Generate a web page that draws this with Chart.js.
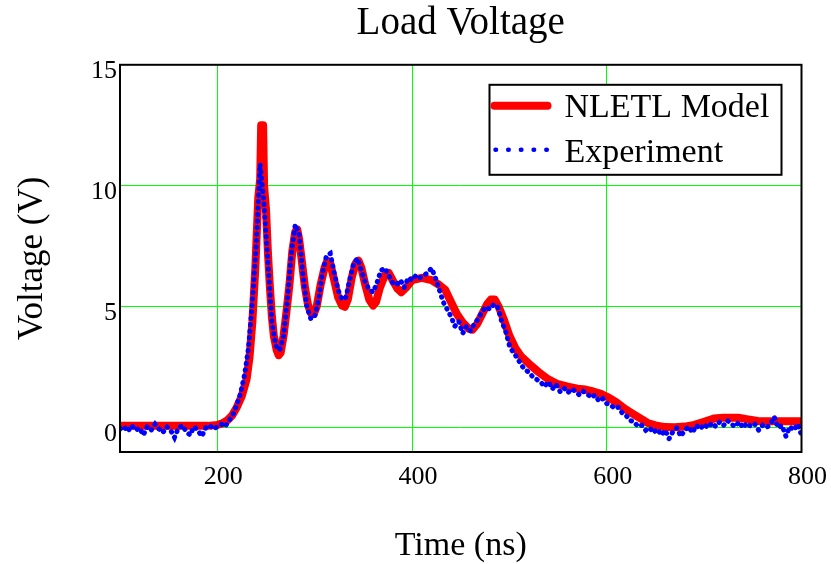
<!DOCTYPE html>
<html>
<head>
<meta charset="utf-8">
<title>Load Voltage</title>
<script src="https://cdn.jsdelivr.net/npm/chart.js@4.4.1/dist/chart.umd.min.js"></script>
<style>
  html, body { margin: 0; padding: 0; background: #fff; }
  #wrap { width: 831px; height: 564px; position: relative; }
</style>
</head>
<body>
<div id="wrap"><canvas id="loadChart"></canvas></div>
<script>
// Load voltage: NLETL model vs measured trace

const SERIF = "'Liberation Serif', 'Times New Roman', serif";

const seriesNames = ['NLETL Model', 'Experiment'];
const xTicks = [200, 400, 600, 800];
const yTicks = [0, 5, 10, 15];

// model curve (ns, V)
const modelTime = [
  100, 150, 190, 200, 205, 210, 215, 220, 225, 230,
  233, 236, 239, 242, 244, 245, 247, 248, 250, 252,
  254, 256, 258, 261, 263, 265, 268, 271, 274, 277,
  280, 282, 284, 287, 290, 293, 296, 299, 302, 306,
  310, 313, 316, 320, 324, 328, 331, 334, 338, 342,
  345, 348, 352, 356, 360, 363, 367, 372, 376, 380,
  385, 389, 394, 400, 410, 420, 428, 434, 440, 446,
  452, 458, 462, 467, 472, 477, 481, 485, 489, 494,
  500, 506, 512, 520, 530, 540, 550, 560, 570, 578,
  586, 594, 602, 610, 618, 626, 634, 642, 650, 660,
  670, 680, 690, 700, 710, 720, 735, 745, 755, 770,
  800
];
const modelVolt = [
  0.08, 0.08, 0.08, 0.12, 0.18, 0.3, 0.5, 0.85, 1.3, 2.0,
  2.9, 4.4, 6.6, 9.5, 10.3, 12.5, 12.5, 10.0, 9.0, 7.2,
  5.8, 4.6, 3.8, 3.2, 3.0, 3.1, 3.8, 4.8, 5.9, 7.3,
  8.1, 8.2, 7.8, 6.8, 5.8, 5.1, 4.75, 4.7, 5.0, 5.9,
  6.6, 6.9, 6.8, 6.1, 5.4, 5.05, 5.0, 5.3, 6.2, 6.8,
  6.9, 6.6, 5.9, 5.3, 5.05, 5.2, 5.8, 6.3, 6.4, 6.1,
  5.75, 5.6, 5.8, 6.1, 6.2, 6.1, 5.9, 5.7, 5.2, 4.7,
  4.35, 4.1, 4.05, 4.3, 4.7, 5.1, 5.3, 5.3, 5.0, 4.5,
  3.8, 3.3, 2.95, 2.65, 2.3, 2.0, 1.8, 1.7, 1.62, 1.58,
  1.5, 1.4, 1.25, 1.05, 0.8, 0.6, 0.4, 0.2, 0.1, 0.03,
  0.02, 0.05, 0.12, 0.25, 0.38, 0.42, 0.42, 0.35, 0.28, 0.27,
  0.27
];

// measured trace, one sample every 4 ns starting at 100 ns
const expStart = 100;
const expStep = 4;
const expVolt = [
  -0.05, 0.05, -0.15, 0.1, -0.1, 0.0, -0.3, 0.05, -0.1, 0.15,
  -0.05, -0.2, 0.05, -0.1, -0.4, 0.0, 0.1, -0.15, -0.3, 0.05,
  -0.1, -0.35, 0.0, 0.1, -0.05, 0.05, 0.15, 0.05, 0.3, 0.55,
  0.95, 1.45, 2.2, 3.3, 5.2, 7.6, 10.9, 9.2, 6.8, 4.4,
  3.4, 3.2, 3.8, 5.3, 7.2, 8.4, 8.0, 6.3, 5.0, 4.5,
  4.6, 5.3, 6.4, 7.1, 7.2, 6.4, 5.7, 5.3, 5.4, 6.1,
  6.8, 7.0, 6.5, 6.0, 5.7, 5.6, 6.0, 6.5, 6.6, 6.3,
  6.0, 5.9, 6.1, 5.8, 6.2, 6.1, 6.3, 6.2, 6.3, 6.4,
  6.6, 6.2, 5.7, 5.2, 4.9, 4.6, 4.2, 4.4, 3.9, 4.2,
  4.0, 4.3, 4.5, 4.8, 5.0, 4.9, 5.1, 5.0, 4.4, 4.0,
  3.4, 3.1, 2.9, 2.6, 2.4, 2.3, 2.1, 2.0, 1.9, 1.7,
  1.9, 1.6, 1.8, 1.5, 1.65, 1.45, 1.6, 1.5, 1.35, 1.5,
  1.4, 1.25, 1.35, 1.1, 1.2, 1.0, 0.95, 0.8, 0.85, 0.6,
  0.5, 0.3, 0.25, 0.05, 0.1, -0.1, 0.0, -0.2, -0.05, -0.3,
  -0.1, -0.45, -0.15, 0.0, -0.35, -0.1, 0.05, -0.2, 0.1, -0.05,
  0.15, 0.0, 0.2, 0.05, 0.25, 0.1, 0.3, 0.15, 0.05, 0.25,
  0.0, 0.2, 0.05, 0.15, -0.1, 0.1, 0.0, 0.15, 0.45, 0.0,
  0.1, -0.35, 0.05, -0.1, 0.15, -0.3
];

const COLORS = {
  model: 'rgb(255, 0, 0)',
  exp: 'rgb(0, 0, 255)',
  grid: '#00ff00',
  ink: '#000'
};

const modelPoints = modelTime.map((t, i) => ({ x: t, y: modelVolt[i] }));
const expPoints = expVolt.map((v, i) => ({ x: expStart + i * expStep, y: v }));

// black frame round the plot plus the boxed legend top right
const frameAndLegend = {
  id: 'frameAndLegend',
  afterDraw(chart) {
    const { ctx, chartArea: a } = chart;
    ctx.save();
    ctx.strokeStyle = COLORS.ink;
    ctx.lineWidth = 2;
    ctx.strokeRect(a.left, a.top, a.right - a.left, a.bottom - a.top);

    const bx = a.right - 312, by = a.top + 20, bw = 292, bh = 90;
    ctx.fillStyle = '#fff';
    ctx.fillRect(bx, by, bw, bh);
    ctx.strokeRect(bx, by, bw, bh);

    ctx.lineCap = 'round';
    ctx.strokeStyle = COLORS.model;
    ctx.lineWidth = 8;
    ctx.beginPath();
    ctx.moveTo(bx + 5, by + 21);
    ctx.lineTo(bx + 58, by + 21);
    ctx.stroke();

    ctx.strokeStyle = COLORS.exp;
    ctx.lineWidth = 4.5;
    ctx.setLineDash([0.5, 12.2]);
    ctx.beginPath();
    ctx.moveTo(bx + 6, by + 65);
    ctx.lineTo(bx + 60, by + 65);
    ctx.stroke();
    ctx.setLineDash([]);

    ctx.fillStyle = COLORS.ink;
    ctx.font = '34px ' + SERIF;
    ctx.textBaseline = 'alphabetic';
    ctx.textAlign = 'left';
    ctx.fillText(seriesNames[0], bx + 75, by + 32);
    ctx.fillText(seriesNames[1], bx + 75, by + 77);
    ctx.restore();
  }
};

Chart.defaults.color = COLORS.ink;
Chart.defaults.font.family = SERIF;

new Chart(document.getElementById('loadChart').getContext('2d'), {
  type: 'line',
  data: {
    datasets: [
      {
        label: seriesNames[0],
        data: modelPoints,
        borderColor: COLORS.model,
        borderWidth: 8,
        borderCapStyle: 'round',
        borderJoinStyle: 'round',
        pointRadius: 0,
        tension: 0,
        clip: 0,
        order: 2
      },
      {
        label: seriesNames[1],
        data: expPoints,
        borderColor: COLORS.exp,
        borderWidth: 5,
        borderDash: [0.5, 6],
        borderCapStyle: 'round',
        pointRadius: 0,
        tension: 0,
        clip: 0,
        order: 1
      }
    ]
  },
  options: {
    responsive: true,
    maintainAspectRatio: false,
    animation: false,
    layout: { padding: { left: 0, right: 29, top: 0, bottom: 0 } },
    plugins: {
      legend: { display: false },
      tooltip: { enabled: false },
      title: {
        display: true,
        text: 'Load Voltage',
        fullSize: false,
        font: { size: 39, weight: 'normal', family: SERIF },
        padding: { top: 0, bottom: 18 }
      }
    },
    scales: {
      x: {
        type: 'linear',
        min: 100,
        max: 800,
        afterBuildTicks: axis => { axis.ticks = xTicks.map(v => ({ value: v })); },
        afterFit: axis => { axis.height = 112; },
        grid: { color: COLORS.grid, lineWidth: 1, drawTicks: false },
        border: { display: false },
        ticks: { font: { size: 26 }, padding: 10, labelOffset: 6, maxRotation: 0 },
        title: { display: true, text: 'Time (ns)', font: { size: 34, lineHeight: 1.05 }, padding: { top: 0, bottom: 0 } }
      },
      y: {
        type: 'linear',
        min: -1,
        max: 15,
        afterBuildTicks: axis => { axis.ticks = yTicks.map(v => ({ value: v })); },
        afterFit: axis => { axis.width = 120; },
        grid: { color: COLORS.grid, lineWidth: 1, drawTicks: false },
        border: { display: false },
        ticks: { font: { size: 26 }, padding: 3, labelOffset: 6 },
        title: { display: true, text: 'Voltage (V)', font: { size: 35 }, padding: { top: 12, bottom: 0 } }
      }
    }
  },
  plugins: [frameAndLegend]
});
</script>
</body>
</html>
